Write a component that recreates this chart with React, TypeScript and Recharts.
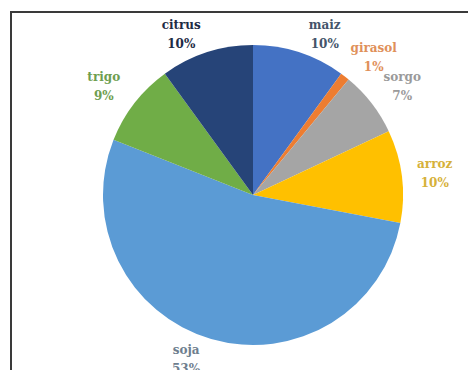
import { Cell, Pie, PieChart } from 'recharts'

const crops = ['maiz', 'girasol', 'sorgo', 'arroz', 'soja', 'trigo', 'citrus']
const shares = [10, 1, 7, 10, 53, 9, 10]

const SLICE_COLORS = ['#4472C4', '#ED7D31', '#A5A5A5', '#FFC000', '#5B9BD5', '#70AD47', '#264478']
const LABEL_COLORS = ['#44546A', '#E0905A', '#9A9A9A', '#D6B13A', '#6F7F8F', '#6E9E50', '#1E2B45']

const data = crops.map((name, i) => ({ name, value: shares[i] }))

const RADIAN = Math.PI / 180

// Excel-ish "outside end" placement: box pushed outward from the rim
function renderLabel(props: any) {
  const { cx, cy, midAngle, outerRadius, index, name, value } = props
  const c = Math.cos(midAngle * RADIAN)
  const s = Math.sin(midAngle * RADIAN)
  const x = cx + (outerRadius + 11) * c + 22 * Math.sign(c)
  const y = cy - (outerRadius + 15 + 18 * Math.abs(c)) * s
  const isDark = index === 6
  return (
    <text
      x={x}
      y={y}
      textAnchor="middle"
      fill={LABEL_COLORS[index]}
      fontFamily="'DejaVu Serif', serif"
      fontSize={12}
      fontWeight={isDark ? 'bold' : 600}
    >
      <tspan x={x} y={y - 4}>{name}</tspan>
      <tspan x={x} y={y + 15}>{value}%</tspan>
    </text>
  )
}

export default function App() {
  return (
    <div
      style={{
        position: 'fixed',
        left: 0,
        top: 0,
        width: 468,
        height: 370,
        overflow: 'hidden',
        background: '#fff',
      }}
    >
      <div
        style={{
          position: 'absolute',
          left: 10,
          top: 11,
          width: 480,
          height: 380,
          border: '2px solid #3a3a3a',
        }}
      />
      <div style={{ position: 'absolute', left: 0, top: 0 }}>
        <PieChart width={468} height={370} margin={{ top: 0, right: 0, bottom: 0, left: 0 }}>
          <Pie
            data={data}
            dataKey="value"
            nameKey="name"
            cx={253}
            cy={195}
            outerRadius={150}
            startAngle={90}
            endAngle={-270}
            stroke="none"
            label={renderLabel}
            labelLine={false}
            isAnimationActive={false}
          >
            {data.map((_, i) => (
              <Cell key={i} fill={SLICE_COLORS[i]} />
            ))}
          </Pie>
        </PieChart>
      </div>
    </div>
  )
}
